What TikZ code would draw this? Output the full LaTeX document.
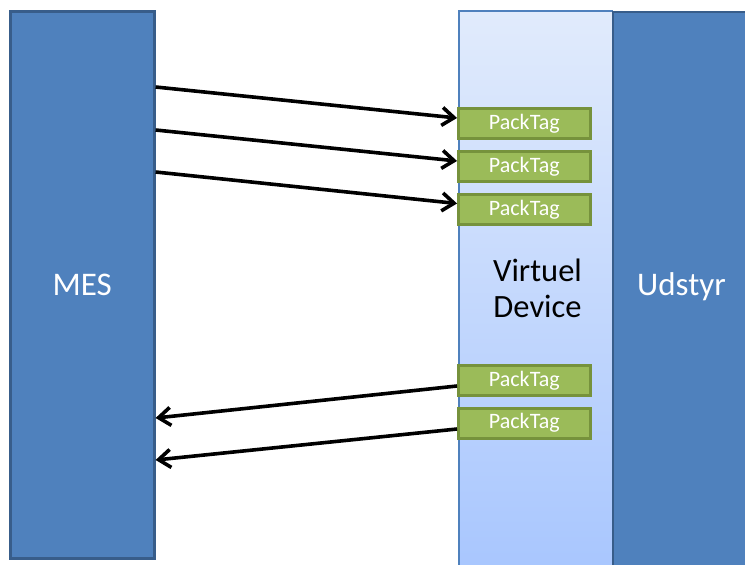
\documentclass[tikz,border=0pt]{standalone}
\usepackage{fontspec}
\setmainfont{Carlito}
\usetikzlibrary{positioning,arrows.meta}
\definecolor{MESBlue}{RGB}{79,129,189}
\definecolor{MESEdge}{RGB}{56,93,138}
\definecolor{TagGreen}{RGB}{155,187,89}
\definecolor{TagEdge}{RGB}{118,146,60}
\definecolor{DevTop}{RGB}{225,235,252}
\definecolor{DevBottom}{RGB}{168,198,254}

\begin{document}
\begin{tikzpicture}[x=1pt, y=-1pt,
    % blaa kasser og tekst
    block/.style={draw=MESEdge, fill=MESBlue, line width=3pt, inner sep=0pt},
    bigtext/.style={text=white, font=\fontsize{33}{40}\selectfont, inner sep=0pt},
    packtag/.style={draw=TagEdge, fill=TagGreen, line width=3pt, text=white,
        font=\fontsize{22}{26}\selectfont, minimum width=131.5pt, minimum height=30pt, inner sep=0pt},
    arrow/.style={-{Straight Barb[length=12pt,width=18pt]}, line width=3.6pt, draw=black}
  ]
  \clip (0,0) rectangle (745,565);

  % Kolonner
  \node[block, minimum width=143.6pt, minimum height=547pt] (mes) at (82.3,285) {};
  \node[bigtext] (mestext) at (mes.center) {MES};
  \node[top color=DevTop, bottom color=DevBottom, draw=MESBlue, line width=1.5pt,
        minimum width=153.5pt, minimum height=564pt, inner sep=0pt] (vdev) at (535.75,293) {};
  \node[bigtext, text=black, align=center, font=\fontsize{32.5}{36}\selectfont] (vdevtext) at (537.5,288) {Virtuel\\Device};
  \node[block, line width=2pt, minimum width=137pt, minimum height=563pt] (udstyr) at (681.5,293.5) {};
  \node[bigtext] (udstyrtext) at (681.5,287) {Udstyr};

  % PackTags
  \node[packtag] (tag1) at (524.3,123.5) {PackTag};
  \node[packtag] (tag2) at (524.3,166.5) {PackTag};
  \node[packtag] (tag3) at (524.3,209.5) {PackTag};
  \node[packtag] (tag4) at (524.3,380.5) {PackTag};
  \node[packtag] (tag5) at (524.3,423) {PackTag};

  % Pile
  \draw[arrow] ([yshift=198pt]mes.east) -- ([yshift=5.5pt]tag1.west);
  \draw[arrow] ([yshift=155pt]mes.east) -- ([yshift=5.5pt]tag2.west);
  \draw[arrow] ([yshift=113pt]mes.east) -- ([yshift=6pt]tag3.west);
  \draw[arrow] ([yshift=-5.5pt]tag4.west) -- ([yshift=-133pt]mes.east);
  \draw[arrow] ([yshift=-6pt]tag5.west) -- ([yshift=-175pt]mes.east);
\end{tikzpicture}
\end{document}
